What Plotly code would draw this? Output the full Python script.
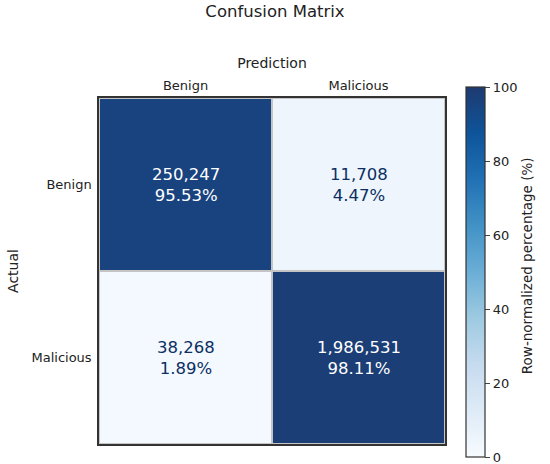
import plotly.graph_objects as go

labels = ["Benign", "Malicious"]
counts = [[250247, 11708],
          [38268, 1986531]]
percents = [[95.53, 4.47],
            [1.89, 98.11]]
cbar_ticks = [0, 20, 40, 60, 80, 100]

# matplotlib-style Blues, top end a bit softer like the reference
blues = [[0.0, "rgb(247,251,255)"], [0.125, "rgb(222,235,247)"],
         [0.25, "rgb(198,219,239)"], [0.375, "rgb(158,202,225)"],
         [0.5, "rgb(107,174,214)"], [0.625, "rgb(66,146,198)"],
         [0.75, "rgb(33,113,181)"], [0.875, "rgb(14,84,154)"],
         [1.0, "rgb(30,58,112)"]]

font = "DejaVu Sans"

fig = go.Figure()
fig.add_trace(go.Heatmap(
    z=percents, x=labels, y=labels,
    zmin=0, zmax=100, colorscale=blues,
    xgap=2, ygap=2, hoverinfo="skip",
    colorbar=dict(
        x=1.061, xanchor="left", y=0.497, yanchor="middle",
        xpad=0, ypad=0,
        thickness=19, len=370, lenmode="pixels",
        outlinewidth=1.2, outlinecolor="#333",
        tickvals=cbar_ticks, ticks="outside", ticklen=5,
        ticklabeloverflow="allow",
        tickfont=dict(size=13, color="#222"),
    ),
))

# cell labels: count and row percentage
for i, row in enumerate(labels):
    for j, col in enumerate(labels):
        p = percents[i][j]
        fig.add_annotation(
            x=col, y=row, showarrow=False,
            text=f"{counts[i][j]:,}<br>{p:.2f}%",
            font=dict(size=16.5, color="white" if p > 50 else "#0b2f63"),
        )

# colorbar label
fig.add_annotation(
    x=1.266, y=0.514, xref="paper", yref="paper", showarrow=False,
    text="Row-normalized percentage (%)", textangle=-90,
    font=dict(size=13.5, color="#222"),
)

fig.update_layout(
    width=550, height=464,
    margin=dict(l=99, r=105, t=98, b=20, autoexpand=False),
    paper_bgcolor="white", plot_bgcolor="#c4c4c4",
    font=dict(family=font, color="#222"),
    title=dict(text="Confusion Matrix", x=0.5, xanchor="center",
               y=0.976, yanchor="middle", font=dict(size=16.5)),
)
fig.update_xaxes(
    side="top", title=dict(text="Prediction", standoff=6, font=dict(size=14)),
    tickfont=dict(size=13), ticks="", ticklabelstandoff=1,
    showgrid=False, zeroline=False, automargin=False,
    showline=True, linecolor="#333", linewidth=1.5, mirror=True,
)
fig.update_yaxes(
    autorange="reversed", title=dict(text="Actual", standoff=10, font=dict(size=14)),
    tickfont=dict(size=13), ticks="", ticklabelstandoff=3,
    showgrid=False, zeroline=False, automargin=False,
    showline=True, linecolor="#333", linewidth=1.5, mirror=True,
)

# drop the default page margin so the figure sits at the window's corner
fig.write_html("out.html", config={"displayModeBar": False},
               post_script="document.body.style.margin='0';")
